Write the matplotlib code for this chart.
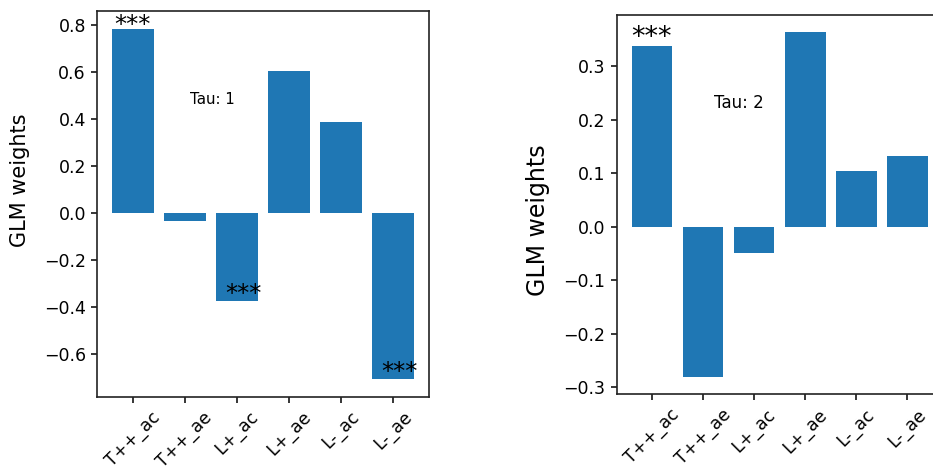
import matplotlib
matplotlib.use("Agg")
import matplotlib.pyplot as plt

categories = ["T++_ac", "T++_ae", "L+_ac", "L+_ae", "L-_ac", "L-_ae"]
weights_tau1 = [0.786, -0.032, -0.374, 0.604, 0.389, -0.707]
weights_tau2 = [0.338, -0.281, -0.049, 0.364, 0.104, 0.133]
sig_tau1 = ["***", "", "***", "", "", "***"]
sig_tau2 = ["***", "", "", "", "", ""]

W, H = 933, 470
fig = plt.figure(figsize=(W / 100, H / 100), dpi=100)

ax1 = fig.add_axes([97 / W, 1 - 397 / H, (429 - 97) / W, (397 - 11) / H])
ax2 = fig.add_axes([616.7 / W, 1 - 394.3 / H, (942.5 - 616.7) / W, (394.3 - 15) / H])

color = "#1f77b4"
for ax, vals, sig, tau, tpos, lab_fs, sig_fs, tau_fs, pos_dy, neg_dy in [
    (ax1, weights_tau1, sig_tau1, "Tau: 1", (1.52, 0.486), 15, 17.5, 10.8, -5.8, -3.2),
    (ax2, weights_tau2, sig_tau2, "Tau: 2", (1.70, 0.231), 17, 19.5, 12, -3.6, -3.2),
]:
    x = list(range(len(categories)))
    ax.bar(x, vals, color=color, width=0.8)
    ax.set_xticks(x)
    ax.set_xticklabels(categories, rotation=45, fontsize=12.5)
    ax.tick_params(axis="y", labelsize=12.5, length=4.5, width=1.1)
    ax.tick_params(axis="x", length=4.5, width=1.1)
    for s in ax.spines.values():
        s.set_linewidth(1.2)
        s.set_color("#222222")
    ax.set_ylabel("GLM weights", fontsize=lab_fs)
    for i, (v, s) in enumerate(zip(vals, sig)):
        if s:
            dx = 0.0 if v > 0 else 0.12
            dy = pos_dy if v > 0 else neg_dy
            ax.annotate(s, (i + dx, v), xytext=(0, dy), textcoords="offset points",
                        ha="center", va="bottom", fontsize=sig_fs)
    ax.text(tpos[0], tpos[1], tau, ha="center", va="center", fontsize=tau_fs)

ax1.yaxis.set_label_coords(-0.202, 0.561)
ax2.yaxis.set_label_coords(-0.205, 0.4595)

fig.savefig("out.png", dpi=100)
